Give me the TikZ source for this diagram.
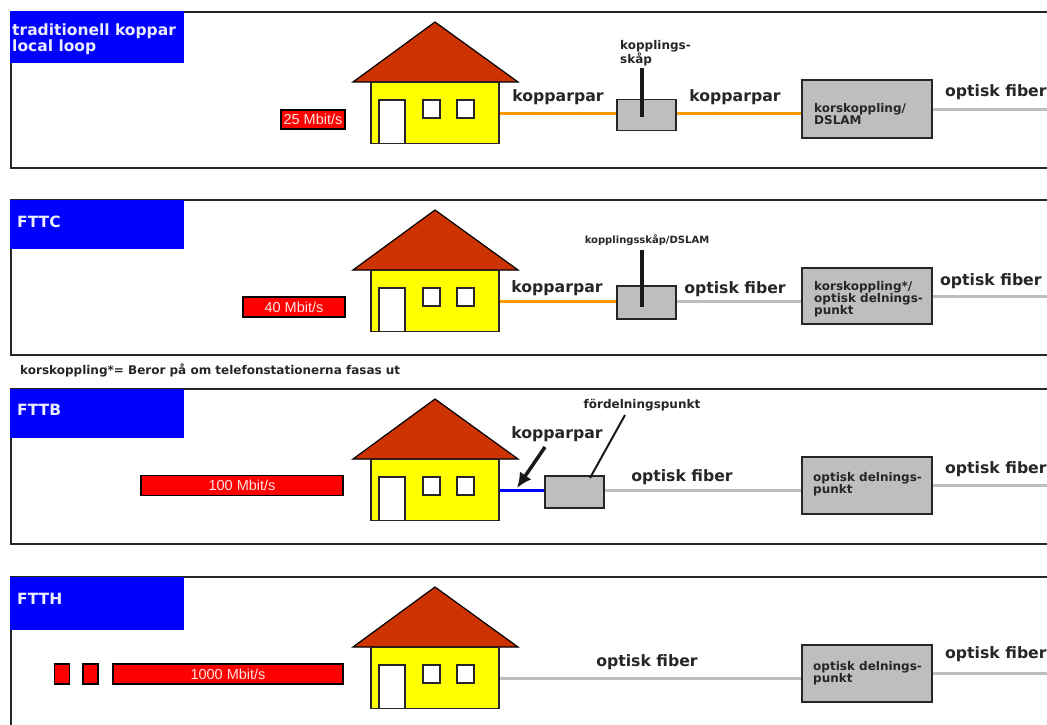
\documentclass[tikz,border=0pt]{standalone}
\usepackage{fontspec}
\usetikzlibrary{arrows.meta}
\setmainfont{DejaVu Sans}
\newfontfamily\rodfont{Liberation Sans}

\definecolor{takrod}{HTML}{CC3300}
\definecolor{ledgra}{HTML}{BEBEBE}
\definecolor{orange1}{HTML}{FF9900}
\definecolor{husgul}{HTML}{FFFF00}
\definecolor{rubrikbla}{HTML}{0000FF}

\tikzset{
  ram/.style={line width=1.5pt, black!85},
  rubrik/.style={fill=rubrikbla, inner sep=0, anchor=north west},
  rubriktext/.style={text=white!92!blue, inner sep=0, anchor=west, align=left, font=\fontsize{15.5}{11.5}\selectfont\bfseries},
  fart/.style={draw=black, line width=1.2pt, fill=red, inner sep=0, text=white!90!red, font=\fontsize{14.5}{14}\selectfont\rodfont},
  lada/.style={draw=black!85, line width=1.5pt, fill=ledgra, inner sep=0},
  kropp/.style={draw=black!85, line width=1.2pt, fill=husgul, inner sep=0, minimum width=128pt, minimum height=61pt},
  ruta/.style={draw=black!85, line width=1.2pt, fill=white, inner sep=0},
  etikett/.style={inner sep=0, text=black!85, font=\fontsize{15.7}{15}\selectfont\bfseries},
  liten/.style={inner sep=0, text=black!85, align=left, font=\fontsize{12}{12}\selectfont\bfseries},
  koppar/.style={line width=3pt, orange1},
  fiber/.style={line width=3pt, ledgra},
  pinne/.style={line width=3.5pt, black!90},
}

\begin{document}
\begin{tikzpicture}[x=1pt,y=-1pt]
        \clip (0,0) rectangle (1047,725);
        \fill[white] (0,0) rectangle (1047,725);

        \draw[ram] (1047,12) -- (11,12) -- (11,168) -- (1047,168);
        \draw[ram] (1047,200) -- (11,200) -- (11,355) -- (1047,355);
        \draw[ram] (1047,389) -- (11,389) -- (11,544) -- (1047,544);
        \draw[ram] (1047,577) -- (11,577) -- (11,725);

        \node[rubrik, minimum width=174pt, minimum height=52pt] (rubrik1) at (10,11) {};
        \node[rubrik, minimum width=174pt, minimum height=49pt] (rubrik2) at (10,200) {};
        \node[rubrik, minimum width=174pt, minimum height=49pt] (rubrik3) at (10,389) {};
        \node[rubrik, minimum width=174pt, minimum height=53pt] (rubrik4) at (10,577) {};
        \node[rubriktext] (namn1) at (12,39) {traditionell koppar\\local loop};
        \node[rubriktext] (namn2) at (17,222) {FTTC};
        \node[rubriktext] (namn3) at (17,410) {FTTB};
        \node[rubriktext] (namn4) at (17,599) {FTTH};

        \foreach \n/\y in {1/22,2/210,3/399,4/587} {
          \draw[line width=1.2pt, black, fill=takrod] (353,\y+60) -- (435,\y) -- (518,\y+60) -- cycle;
          \node[kropp] (hus\n) at (435,\y+91) {};
          \node[ruta, minimum width=26pt, minimum height=43.5pt] (dorr\n) at (392,\y+99.75) {};
          \node[ruta, minimum width=17pt, minimum height=18pt] (fonstera\n) at (431.5,\y+87) {};
          \node[ruta, minimum width=17pt, minimum height=18pt] (fonsterb\n) at (465.5,\y+87) {};
        }

        \node[fart, minimum width=64pt, minimum height=19pt] (fart1) at (313,119.5) {25 Mbit/s};
        \node[fart, minimum width=102pt, minimum height=20pt] (fart2) at (294,307) {40 Mbit/s};
        \node[fart, minimum width=202pt, minimum height=20pt] (fart3) at (242,485.5) {100 Mbit/s\hspace{10pt}};
        \node[fart, minimum width=230pt, minimum height=20pt] (fart4) at (228,674) {1000 Mbit/s};
        \node[fart, minimum width=15pt, minimum height=20pt] (block1) at (62,674) {};
        \node[fart, minimum width=15pt, minimum height=20pt] (block2) at (90.5,674) {};

        \node[lada, minimum width=59pt, minimum height=31pt] (skap1) at (646.5,115) {};
        \node[lada, minimum width=130pt, minimum height=58pt] (kors1) at (867,109) {};
        \node[lada, minimum width=59pt, minimum height=33pt] (skap2) at (646.5,302.5) {};
        \node[lada, minimum width=130pt, minimum height=56pt] (kors2) at (867,296) {};
        \node[lada, minimum width=59pt, minimum height=32pt] (punkt3) at (574.5,492) {};
        \node[lada, minimum width=130pt, minimum height=57pt] (kors3) at (867,485.5) {};
        \node[lada, minimum width=130pt, minimum height=57pt] (kors4) at (867,673.5) {};

        \coordinate (ut1) at (1047,109);
        \coordinate (ut2) at (1047,296);
        \coordinate (ut3) at (1047,485.5);
        \coordinate (ut4) at (1047,673.5);
        \coordinate (topp1) at (642,68);
        \coordinate (botten1) at (642,117);
        \coordinate (topp2) at (642,250);
        \coordinate (botten2) at (642,307);
        \coordinate (topp3) at (625,415);
        \coordinate (botten3) at (590,478);
        \coordinate (pilstart) at (545,447);
        \coordinate (pilmal) at (517,488);

        \draw[koppar] (hus1.east) -- (hus1.east -| skap1.west);
        \draw[koppar] (hus1.east -| skap1.east) -- (hus1.east -| kors1.west);
        \draw[fiber] (kors1.east) -- (ut1);
        \draw[koppar] (hus2.east) -- (hus2.east -| skap2.west);
        \draw[fiber] (hus2.east -| skap2.east) -- (hus2.east -| kors2.west);
        \draw[fiber] (kors2.east) -- (ut2);
        \draw[line width=3pt, rubrikbla] (hus3.east) -- (hus3.east -| punkt3.west);
        \draw[fiber] (hus3.east -| punkt3.east) -- (hus3.east -| kors3.west);
        \draw[fiber] (kors3.east) -- (ut3);
        \draw[fiber] (hus4.east) -- (hus4.east -| kors4.west);
        \draw[fiber] (kors4.east) -- (ut4);

        \draw[pinne] (topp1) -- (botten1);
        \draw[pinne] (topp2) -- (botten2);
        \draw[line width=2pt, black!90] (topp3) -- (botten3);
        \draw[-{Latex[length=15pt,width=14pt]}, pinne] (pilstart) -- (pilmal);

        \node[etikett] (lab1) at (558,97) {kopparpar};
        \node[etikett] (lab2) at (735,97) {kopparpar};
        \node[etikett, anchor=west] (lab3) at (945,92.5) {optisk fiber};
        \node[etikett] (lab4) at (557,288) {kopparpar};
        \node[etikett] (lab5) at (735,289) {optisk fiber};
        \node[etikett, anchor=west] (lab6) at (940,281) {optisk fiber};
        \node[etikett] (lab7) at (557,434) {kopparpar};
        \node[etikett] (lab8) at (682,477) {optisk fiber};
        \node[etikett, anchor=west] (lab9) at (945,469) {optisk fiber};
        \node[etikett] (lab10) at (647,662) {optisk fiber};
        \node[etikett, anchor=west] (lab11) at (945,654) {optisk fiber};

        \node[liten, anchor=west] (skaptext1) at (620,53) {kopplings-\\skåp};
        \node[liten, font=\fontsize{10}{12}\selectfont\bfseries] (skaptext2) at (647,240) {kopplingsskåp/DSLAM};
        \node[liten] (punkttext3) at (642,405) {fördelningspunkt};
        \node[liten, anchor=west] (korstext1) at (814,114) {korskoppling/\\DSLAM};
        \node[liten, anchor=west] (korstext2) at (814,299) {korskoppling*/\\optisk delnings-\\punkt};
        \node[liten, anchor=west] (korstext3) at (813,484) {optisk delnings-\\punkt};
        \node[liten, anchor=west] (korstext4) at (813,673) {optisk delnings-\\punkt};
        \node[liten, anchor=west] (fotnot) at (20,370) {korskoppling*= Beror på om telefonstationerna fasas ut};

      \end{tikzpicture}
\end{document}
